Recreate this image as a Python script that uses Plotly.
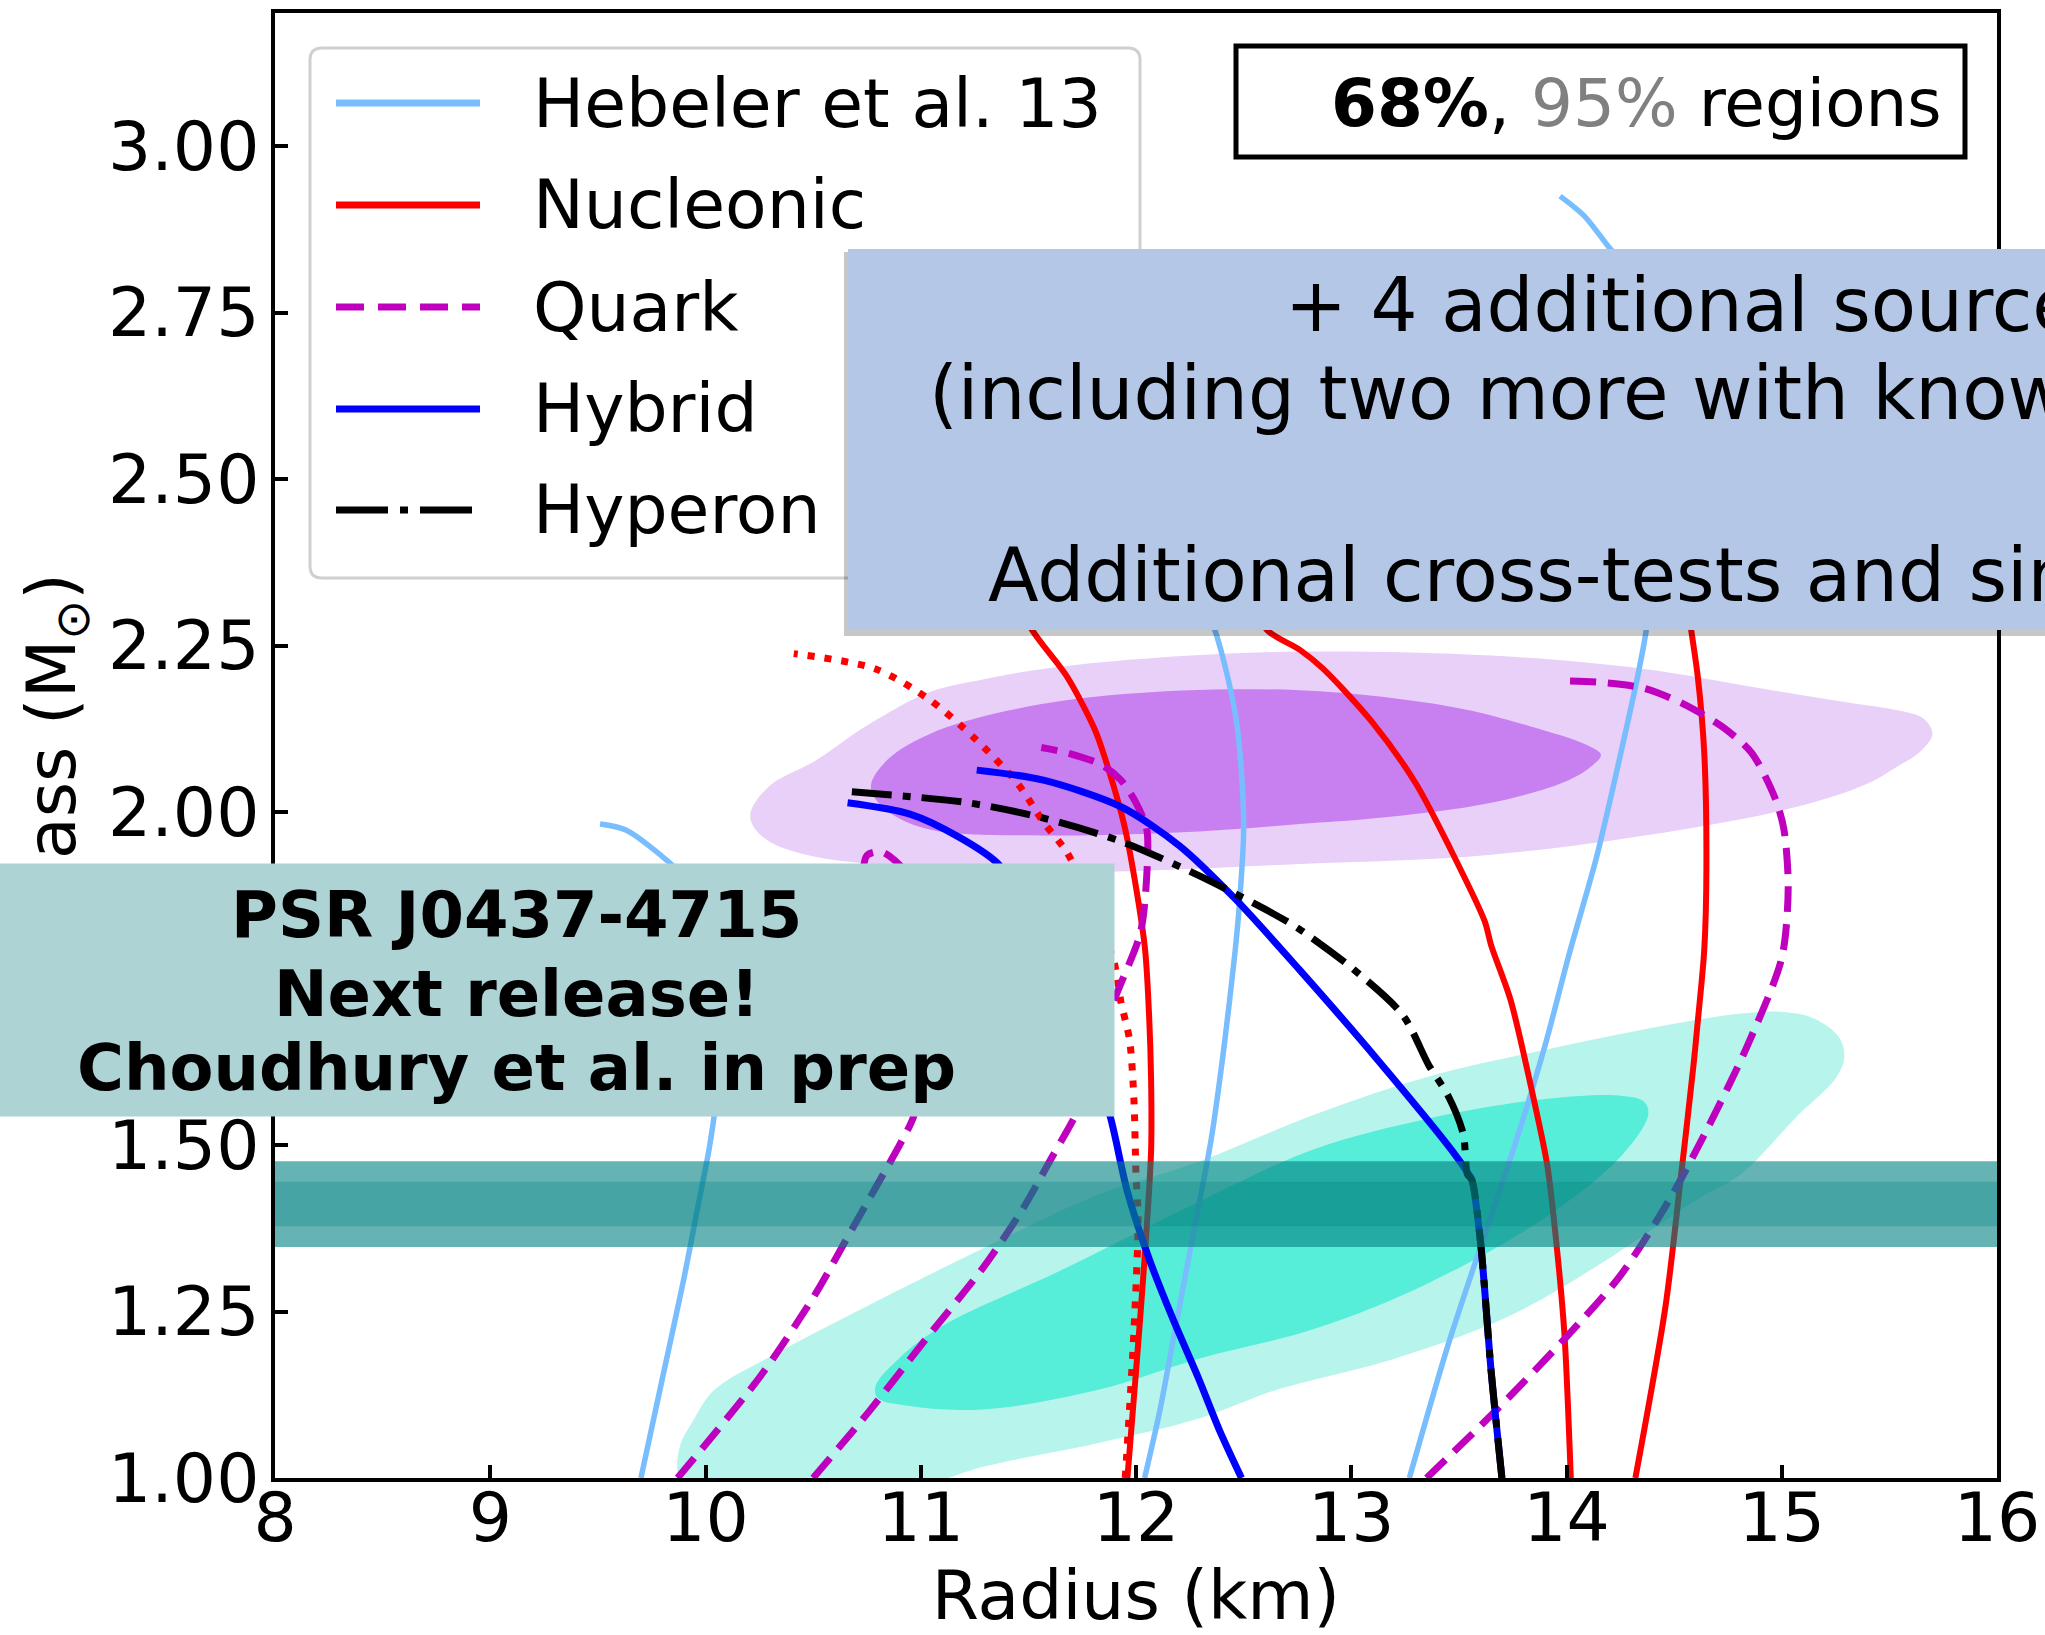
import plotly.graph_objects as go

# ---------------- data (radius in km, mass in solar masses) ----------------
# Hebeler et al. 13 (soft, intermediate, stiff)
heb_soft_R = [9.70, 9.80, 9.90, 9.96, 10.02, 10.06, 10.07, 10.04, 9.96, 9.84, 9.63, 9.51]
heb_soft_M = [1.00, 1.15, 1.30, 1.40, 1.50, 1.60, 1.70, 1.80, 1.88, 1.922, 1.973, 1.982]
heb_int_R = [12.04, 12.11, 12.18, 12.28, 12.35, 12.41, 12.46, 12.48, 12.50, 12.49, 12.46, 12.37, 12.20, 12.00, 11.80]
heb_int_M = [1.00, 1.10, 1.22, 1.39, 1.51, 1.65, 1.79, 1.86, 1.97, 2.06, 2.15, 2.27, 2.40, 2.47, 2.50]
heb_stiff_R = [13.27, 13.45, 13.61, 13.76, 13.90, 14.01, 14.14, 14.24, 14.33, 14.37, 14.42, 14.45, 14.42, 14.32, 14.20, 14.08, 13.97]
heb_stiff_M = [1.00, 1.20, 1.356, 1.50, 1.649, 1.784, 1.933, 2.071, 2.203, 2.272, 2.40, 2.55, 2.70, 2.80, 2.847, 2.896, 2.925]

# Nucleonic
nuc1_R = [11.96, 12.00, 12.04, 12.07, 12.07, 12.06, 12.04, 11.95, 11.86, 11.81, 11.68, 11.52, 11.30, 11.10, 10.90]
nuc1_M = [1.00, 1.16, 1.33, 1.49, 1.60, 1.70, 1.80, 1.974, 2.077, 2.123, 2.203, 2.272, 2.40, 2.50, 2.56]
nuc2_R = [14.02, 13.99, 13.95, 13.91, 13.83, 13.74, 13.65, 13.62, 13.46, 13.30, 13.10, 12.87, 12.76, 12.61, 12.40, 12.20, 12.00]
nuc2_M = [1.00, 1.218, 1.362, 1.471, 1.595, 1.718, 1.80, 1.836, 1.945, 2.043, 2.134, 2.215, 2.244, 2.273, 2.38, 2.45, 2.50]
nuc3_R = [14.32, 14.46, 14.53, 14.59, 14.61, 14.64, 14.65, 14.64, 14.61, 14.58, 14.50, 14.30, 14.00]
nuc3_M = [1.00, 1.258, 1.448, 1.62, 1.686, 1.793, 1.916, 2.089, 2.203, 2.272, 2.45, 2.60, 2.70]
nucd_R = [11.95, 11.99, 12.01, 12.00, 11.99, 11.97, 11.93, 11.90, 11.80, 11.68, 11.57, 11.45, 11.25, 11.04, 10.79, 10.41]
nucd_M = [1.00, 1.218, 1.39, 1.456, 1.571, 1.658, 1.715, 1.772, 1.86, 1.939, 1.985, 2.043, 2.111, 2.169, 2.215, 2.238]

# Quark
q1_R = [9.87, 10.26, 10.51, 10.65, 10.79, 10.91, 10.97, 11.02, 11.03, 11.00, 10.93, 10.82, 10.75, 10.73]
q1_M = [1.00, 1.155, 1.276, 1.356, 1.436, 1.505, 1.546, 1.65, 1.75, 1.84, 1.91, 1.94, 1.935, 1.90]
q2_R = [10.50, 10.76, 11.02, 11.29, 11.47, 11.61, 11.73, 11.82, 11.90, 12.02, 12.05, 12.05, 12.00, 11.93, 11.84, 11.68, 11.56]
q2_M = [1.00, 1.10, 1.207, 1.316, 1.402, 1.482, 1.552, 1.63, 1.718, 1.818, 1.905, 1.974, 2.014, 2.048, 2.071, 2.089, 2.097]
q3_R = [13.35, 13.68, 14.00, 14.25, 14.48, 14.66, 14.84, 15.00, 15.03, 15.01, 14.97, 14.86, 14.72, 14.54, 14.36, 14.15, 14.01]
q3_M = [1.00, 1.104, 1.212, 1.304, 1.419, 1.528, 1.649, 1.781, 1.887, 1.974, 2.02, 2.089, 2.129, 2.163, 2.186, 2.195, 2.197]

# Hybrid
hyb1_R = [12.49, 12.39, 12.29, 12.17, 12.06, 11.96, 11.88, 11.78, 11.65, 11.50, 11.36, 11.18, 10.95, 10.66]
hyb1_M = [1.00, 1.07, 1.15, 1.24, 1.33, 1.43, 1.543, 1.64, 1.75, 1.85, 1.922, 1.962, 1.997, 2.014]
hyb2_R = [13.70, 13.65, 13.60, 13.56, 13.54, 13.47, 13.12, 12.76, 12.46, 12.20, 11.93, 11.57, 11.26]
hyb2_M = [1.00, 1.16, 1.356, 1.448, 1.459, 1.491, 1.629, 1.763, 1.87, 1.95, 2.008, 2.048, 2.063]

# Hyperon
hyp_R = [13.70, 13.65, 13.60, 13.56, 13.54, 13.52, 13.45, 13.36, 13.24, 13.01, 12.76, 12.64, 12.29, 11.93, 11.57, 11.22, 10.66]
hyp_M = [1.00, 1.16, 1.356, 1.448, 1.456, 1.517, 1.574, 1.62, 1.695, 1.764, 1.824, 1.847, 1.905, 1.956, 1.991, 2.014, 2.031]

# Credible regions (contour outlines)
purple95_R = [10.21, 10.30, 10.51, 10.75, 11.04, 11.30, 11.57, 12.11, 12.76, 13.65, 14.36, 14.90, 15.30, 15.55, 15.66, 15.70,
              15.64, 15.55, 15.40, 15.07, 14.54, 13.65, 12.76, 11.75, 11.04, 10.51, 10.30, 10.22]
purple95_M = [2.00, 2.04, 2.077, 2.13, 2.18, 2.20, 2.215, 2.232, 2.241, 2.235, 2.215, 2.186, 2.165, 2.152, 2.14, 2.117,
              2.09, 2.071, 2.043, 2.008, 1.974, 1.936, 1.922, 1.91, 1.916, 1.933, 1.955, 1.98]
purple68_R = [10.77, 10.85, 11.04, 11.40, 11.93, 12.76, 13.47, 13.83, 14.10, 14.16, 14.12, 14.01, 13.65, 13.12, 12.76, 12.29,
              11.57, 11.04, 10.85, 10.78]
purple68_M = [2.043, 2.08, 2.117, 2.152, 2.177, 2.183, 2.158, 2.129, 2.10, 2.086, 2.07, 2.048, 2.014, 1.991, 1.982, 1.971,
              1.965, 1.974, 2.00, 2.025]
cyan95_R = [9.88, 9.95, 10.04, 10.31, 10.75, 11.29, 11.82, 12.30, 12.83, 13.36, 13.90, 14.43, 14.80, 14.99, 15.15, 15.27,
            15.29, 15.25, 15.07, 14.81, 14.61, 14.16, 13.72, 13.19, 12.65, 12.30, 11.82, 11.29, 11.00, 10.00, 9.88]
cyan95_M = [1.046, 1.09, 1.132, 1.184, 1.258, 1.345, 1.425, 1.476, 1.546, 1.603, 1.643, 1.678, 1.697, 1.70, 1.69, 1.66,
            1.63, 1.60, 1.543, 1.456, 1.419, 1.322, 1.241, 1.178, 1.132, 1.09, 1.052, 1.017, 0.99, 0.98, 1.00]
cyan68_R = [10.79, 10.90, 11.11, 11.64, 12.30, 12.83, 13.36, 13.90, 14.25, 14.36, 14.38, 14.25, 13.90, 13.36, 12.83, 12.30,
            11.82, 11.29, 10.93, 10.80]
cyan68_M = [1.138, 1.18, 1.23, 1.31, 1.416, 1.494, 1.54, 1.569, 1.574, 1.565, 1.546, 1.482, 1.391, 1.293, 1.224, 1.18,
            1.132, 1.103, 1.109, 1.12]

# PSR J0437-4715 mass band (95% and 68%)
band95_M = [1.347, 1.4755]
band68_M = [1.378, 1.445]

x_ticks = [8, 9, 10, 11, 12, 13, 14, 15, 16]
y_ticks = [1.00, 1.25, 1.50, 1.75, 2.00, 2.25, 2.50, 2.75, 3.00]
legend_names = ["Hebeler et al. 13", "Nucleonic", "Quark", "Hybrid", "Hyperon"]

# ---------------- styles ----------------
C_HEB = "#78BEFF"
C_NUC = "#FF0000"
C_QRK = "#BF00BF"
C_HYB = "#0000FF"
C_HYP = "#000000"
DASH_Q = "26px,12px"
DASH_D = "7px,10px"
DASH_H = "40px,11px,8px,11px"
FONT = "DejaVu Sans"

W, H = 2045, 1635
PL, PR, PT, PB = 275, 1997, 13, 1478   # plot area in page pixels


def px(x):
    return (x - PL) / (PR - PL)


def py(y):
    return (PB - y) / (PB - PT)


fig = go.Figure()


def region(R, M, color):
    fig.add_trace(go.Scatter(x=R + [R[0]], y=M + [M[0]], mode="lines", fill="toself",
                             fillcolor=color, line=dict(width=0, color=color, shape="spline", smoothing=1.0),
                             hoverinfo="skip", showlegend=False))


def curve(R, M, color, width, dash="solid"):
    fig.add_trace(go.Scatter(x=R, y=M, mode="lines",
                             line=dict(color=color, width=width, dash=dash, shape="spline", smoothing=0.8),
                             hoverinfo="skip", showlegend=False))


region(purple95_R, purple95_M, "#E8D0F8")
region(purple68_R, purple68_M, "#C880F0")
region(cyan95_R, cyan95_M, "#B7F5EC")
region(cyan68_R, cyan68_M, "#56EED8")

curve(heb_soft_R, heb_soft_M, C_HEB, 5.5)
curve(heb_int_R, heb_int_M, C_HEB, 5.5)
curve(heb_stiff_R, heb_stiff_M, C_HEB, 5.5)
curve(nuc1_R, nuc1_M, C_NUC, 6)
curve(nuc2_R, nuc2_M, C_NUC, 6)
curve(nuc3_R, nuc3_M, C_NUC, 6)
curve(nucd_R, nucd_M, C_NUC, 7, DASH_D)
curve(q1_R, q1_M, C_QRK, 7, DASH_Q)
curve(q2_R, q2_M, C_QRK, 7, DASH_Q)
curve(q3_R, q3_M, C_QRK, 7, DASH_Q)
curve(hyb1_R, hyb1_M, C_HYB, 7)
curve(hyb2_R, hyb2_M, C_HYB, 7)
curve(hyp_R, hyp_M, C_HYP, 7, DASH_H)

# mass band of PSR J0437-4715 drawn on top of curves
for lo_hi, op in ((band95_M, 0.6), (band68_M, 0.3)):
    lo, hi = lo_hi
    fig.add_trace(go.Scatter(x=[x_ticks[0], x_ticks[-1], x_ticks[-1], x_ticks[0], x_ticks[0]],
                             y=[lo, lo, hi, hi, lo], mode="lines", fill="toself",
                             fillcolor=f"rgba(0,128,128,{op})", line=dict(width=0),
                             hoverinfo="skip", showlegend=False))

shapes = []
annotations = []

# legend (drawn manually to reproduce long line samples)
lx0, lx1, ly0, ly1, rr = 310, 1140, 48, 578, 12
rx, ry = rr / (PR - PL), rr / (PB - PT)
X0, X1, Y0, Y1 = px(lx0), px(lx1), py(ly1), py(ly0)
legend_path = (f"M{X0 + rx},{Y0} L{X1 - rx},{Y0} Q{X1},{Y0} {X1},{Y0 + ry} "
               f"L{X1},{Y1 - ry} Q{X1},{Y1} {X1 - rx},{Y1} L{X0 + rx},{Y1} Q{X0},{Y1} {X0},{Y1 - ry} "
               f"L{X0},{Y0 + ry} Q{X0},{Y0} {X0 + rx},{Y0} Z")
shapes.append(dict(type="path", xref="paper", yref="paper", layer="above", path=legend_path,
                   fillcolor="rgba(255,255,255,0.85)", line=dict(width=3, color="#D0D0D0")))
legend_styles = [(C_HEB, 7, "solid"), (C_NUC, 7, "solid"), (C_QRK, 7, "28px,14px"),
                 (C_HYB, 7, "solid"), (C_HYP, 7, "52px,12px,8px,12px")]
rows = [103, 205, 307, 409, 510]
for name, (col, wd, ds), yr in zip(legend_names, legend_styles, rows):
    shapes.append(dict(type="line", xref="paper", yref="paper", layer="above",
                       x0=px(336), x1=px(480), y0=py(yr), y1=py(yr),
                       line=dict(color=col, width=wd, dash=ds)))
    annotations.append(dict(text=name, xref="paper", yref="paper", x=px(531), y=py(yr),
                            xanchor="left", yanchor="middle", showarrow=False,
                            font=dict(family=FONT, size=68, color="black")))

# blue info box (with soft shadow), above the legend
shapes.append(dict(type="rect", xref="paper", yref="paper", layer="above",
                   x0=px(844), x1=px(2200), y0=py(636), y1=py(252),
                   fillcolor="rgba(0,0,0,0.22)", line=dict(width=0)))
shapes.append(dict(type="rect", xref="paper", yref="paper", layer="above",
                   x0=px(848), x1=px(2200), y0=py(630), y1=py(249),
                   fillcolor="#B4C7E7", line=dict(width=0)))
blue_lines = [("+ 4 additional sources", 1283, 305),
              ("(including two more with known masses)", 927, 393),
              ("Additional cross-tests and simulations", 986, 575)]
for txt, x, y in blue_lines:
    annotations.append(dict(text=txt, xref="paper", yref="paper", x=px(x), y=py(y),
                            xanchor="left", yanchor="middle", showarrow=False,
                            font=dict(family=FONT, size=74, color="black")))

# PSR J0437 box: drawn as an annotation so it covers the axis title like the original
annotations.append(dict(text=" ", xref="paper", yref="paper", x=px(516), y=py(990),
                        xanchor="center", yanchor="middle", showarrow=False,
                        width=1196, height=252, borderpad=0, bgcolor="#AED3D5",
                        font=dict(family=FONT, size=20, color="#AED3D5")))
psr_lines = [("PSR J0437-4715", 915), ("Next release!", 994), ("Choudhury et al. in prep", 1068)]
for txt, y in psr_lines:
    annotations.append(dict(text=f"<b>{txt}</b>", xref="paper", yref="paper", x=px(516), y=py(y),
                            xanchor="center", yanchor="middle", showarrow=False,
                            font=dict(family=FONT, size=64, color="black")))

# "68%, 95% regions" box
shapes.append(dict(type="rect", xref="paper", yref="paper", layer="above",
                   x0=px(1236), x1=px(1965), y0=py(157), y1=py(46),
                   fillcolor="white", line=dict(width=5, color="black")))
annotations.append(dict(text="<b>68%</b>, <span style='color:#808080'>95%</span> regions",
                        xref="paper", yref="paper", x=px(1944), y=py(103),
                        xanchor="right", yanchor="middle", showarrow=False,
                        font=dict(family=FONT, size=66, color="black")))

fig.update_layout(
    width=W, height=H, autosize=False,
    margin=dict(l=PL, r=W - PR, t=PT, b=H - PB, pad=0, autoexpand=False),
    paper_bgcolor="white", plot_bgcolor="white",
    font=dict(family=FONT, size=68, color="black"),
    showlegend=False, shapes=shapes, annotations=annotations,
)
fig.update_xaxes(range=[8, 16], tickvals=x_ticks, ticktext=[str(v) for v in x_ticks],
                 ticks="inside", ticklen=13, tickwidth=4, tickcolor="black",
                 showline=True, linewidth=4, linecolor="black", mirror=True, automargin=False,
                 showgrid=False, zeroline=False, ticklabelstandoff=-23,
                 tickfont=dict(family=FONT, size=68, color="black"),
                 title=dict(text="Radius (km)", standoff=48, font=dict(family=FONT, size=68, color="black")))
fig.update_yaxes(range=[1.0, 3.2], tickvals=y_ticks, ticktext=[f"{v:.2f}" for v in y_ticks],
                 ticks="inside", ticklen=13, tickwidth=4, tickcolor="black",
                 showline=True, linewidth=4, linecolor="black", mirror=True, automargin=False,
                 showgrid=False, zeroline=False, ticklabelstandoff=-2,
                 tickfont=dict(family=FONT, size=68, color="black"),
                 title=dict(text="Mass (M<sub>⊙</sub>)", standoff=11, font=dict(family=FONT, size=68, color="black")))

# remove the page's default body margin so the figure starts at the window corner
fig.write_html("out.html", config={"displayModeBar": False},
               post_script="document.body.style.margin='0px';")
